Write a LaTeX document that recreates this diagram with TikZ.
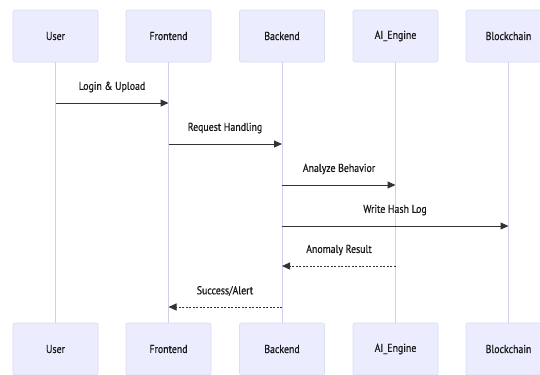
\documentclass[tikz,border=0pt]{standalone}
\usepackage{fontspec}
\setmainfont{PT Sans}[FakeStretch=0.86,FakeBold=0.6]
\usetikzlibrary{arrows.meta}
\definecolor{boxfill}{HTML}{ECECFF}
\definecolor{boxline}{HTML}{DCDCF2}
\definecolor{lifeline}{HTML}{D0D0EE}
\definecolor{msg}{HTML}{333333}
\tikzset{
  x=1bp, y=-1bp,
  actor/.style={draw=boxline, fill=boxfill, rounded corners=2bp, minimum width=85bp, minimum height=52bp, inner sep=0pt, font=\fontsize{11.5}{13}\selectfont, text=black!90, line width=0.6bp},
  life/.style={draw=lifeline, line width=0.9bp},
  call/.style={draw=msg, line width=1bp, -{Triangle[length=8bp,width=7bp]}},
  reply/.style={call, dash pattern=on 2bp off 1.5bp},
  lbl/.style={font=\fontsize{11.5}{13}\selectfont, text=black!90, inner sep=0pt}
}
\begin{document}
\begin{tikzpicture}
\useasboundingbox (0,0) rectangle (540,374);
\fill[white] (0,0) rectangle (540,374);
\clip (0,0) rectangle (540,374);
% actors
\foreach \n/\x/\t in {u/55.5/User, f/168.5/Frontend, b/282/Backend, a/395.5/AI\_Engine, c/508.5/Blockchain}{
  \node[actor] (\n t) at (\x,36) {\t};
  \node[actor] (\n b) at (\x,349) {\t};
  \draw[life] (\n t.south) -- (\n b.north);
}
% coordinates on lifelines
\foreach \n/\x in {u/55.5, f/168.5, b/282, a/395.5, c/508.5}{
  \foreach \y/\k in {103/1,144/2,185/3,226/4,266/5,307/6}{
    \coordinate (\n\k) at (\x,\y);
  }
}
\draw[call] (u1) -- (f1);
\node[lbl] (l1) at (112,87) {Login \& Upload};
\draw[call] (f2) -- (b2);
\node[lbl] (l2) at (225,128) {Request Handling};
\draw[call] (b3) -- (a3);
\node[lbl] (l3) at (339,169) {Analyze Behavior};
\draw[call] (b4) -- (c4);
\node[lbl] (l4) at (395,210) {Write Hash Log};
\draw[reply] (a5) -- (b5);
\node[lbl] (l5) at (339,250) {Anomaly Result};
\draw[reply] (b6) -- (f6);
\node[lbl] (l6) at (225,291) {Success/Alert};
\end{tikzpicture}
\end{document}
